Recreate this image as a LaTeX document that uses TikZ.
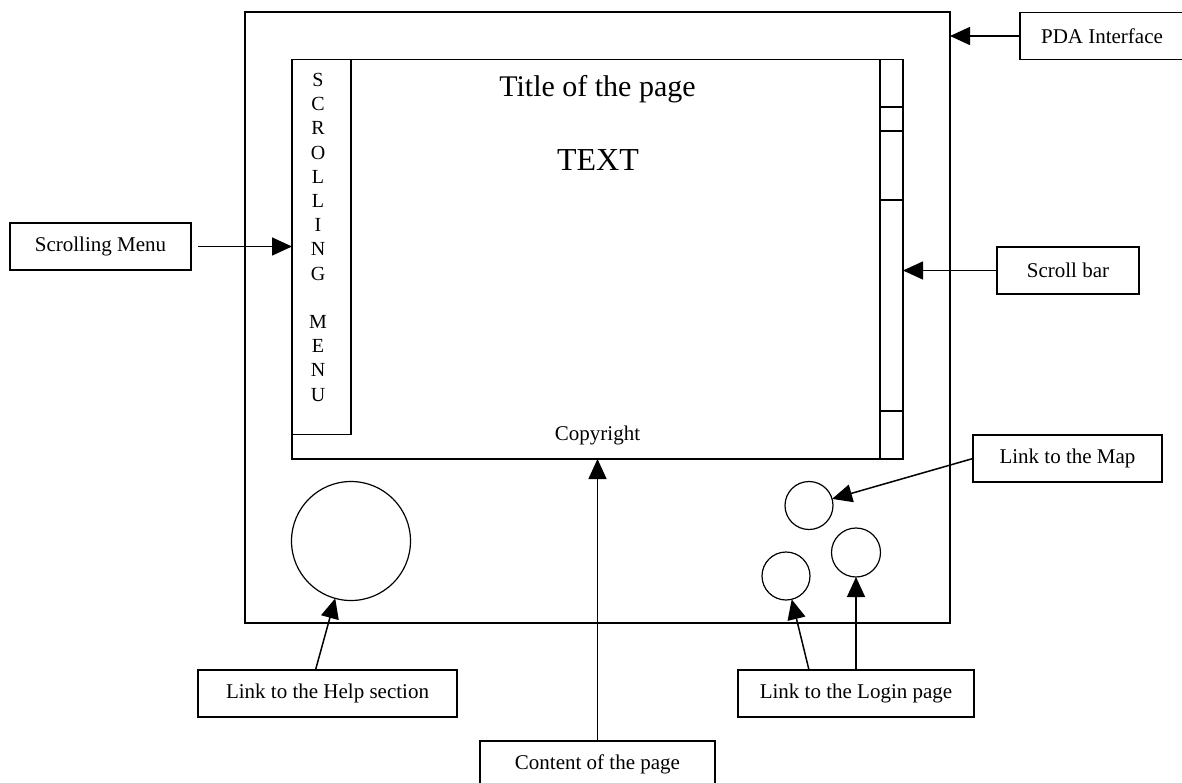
\documentclass[tikz,border=0pt]{standalone}
\usepackage{fontspec}
\setmainfont{Liberation Serif}
\usetikzlibrary{arrows.meta}
\begin{document}
\begin{tikzpicture}[x=1pt,y=-1pt,
  frame/.style={draw, line width=1.5pt, inner sep=0pt, outer sep=0pt, rectangle},
  lbl/.style={draw, line width=1.5pt, inner sep=0pt, outer sep=0pt, minimum height=47pt, font=\fontsize{21}{25}\selectfont},
  btn/.style={draw, circle, line width=1.2pt, inner sep=0pt, outer sep=0pt},
  arr/.style={line width=1.5pt, -{Triangle[length=20pt,width=18pt]}},
  letter/.style={inner sep=0pt, font=\fontsize{20}{24}\selectfont},
  plain/.style={inner sep=0pt, anchor=base},
]
\useasboundingbox (0,0) rectangle (1182,782);

% device and screen
\node[frame, minimum width=705pt, minimum height=611pt] (pda) at (597.5,317.5) {};
\node[frame, minimum width=611pt, minimum height=399.5pt] (screen) at (597.5,259.25) {};
\node[frame, minimum width=59pt, minimum height=375pt] (menu) at (321.5,247) {};
\node[frame, minimum width=23pt, minimum height=399.5pt] (sb) at (891.5,259.25) {};
\foreach \yy in {107,131,200,411} \draw[line width=1.5pt] (880,\yy) -- (903,\yy);

% screen texts
\node[plain, font=\fontsize{30}{36}\selectfont] (title) at (597.5,96) {Title of the page};
\node[plain, font=\fontsize{32}{38}\selectfont] (text) at (598,170) {TEXT};
\node[plain, font=\fontsize{21}{25}\selectfont] (copy) at (597.5,440) {Copyright};
\foreach \l [count=\i from 0] in {S,C,R,O,L,L,I,N,G}
  \node[letter] (m\i) at (318,80+\i*24.2) {\l};
\foreach \l [count=\i from 10] in {M,E,N,U}
  \node[letter] (m\i) at (318,80+\i*24.2) {\l};

% buttons
\node[btn, minimum size=119pt] (help) at (351,541) {};
\node[btn, minimum size=48pt] (c1) at (809,505.5) {};
\node[btn, minimum size=48pt] (c2) at (786,576) {};
\node[btn, minimum size=49pt] (c3) at (856,552.5) {};

% labels
\node[lbl, minimum width=164pt] (pdal) at (1102,36) {PDA Interface};
\node[lbl, minimum width=181pt] (sml) at (100.5,246.5) {Scrolling Menu};
\node[lbl, minimum width=142pt] (sbl) at (1068,270.5) {Scroll bar};
\node[lbl, minimum width=189pt] (mapl) at (1067.5,458.5) {Link to the Map};
\node[lbl, minimum width=259pt] (helpl) at (327.5,693.5) {Link to the Help section};
\node[lbl, minimum width=236pt] (loginl) at (856,693.5) {Link to the Login page};
\node[lbl, minimum width=235pt] (contl) at (597.5,764.5) {Content of the page};

% connectors
\draw[arr] (pdal.west) -- (pdal.west -| pda.east);
\draw[arr, shorten <=7pt] (sml.east) -- (sml.east -| menu.west);
\draw[arr] (sbl.west) -- (sbl.west -| sb.east);
\draw[arr] (mapl.west) -- (c1);
\draw[arr] ([xshift=-12pt]helpl.north) -- (help);
\draw[arr] (contl.north) -- (contl.north |- screen.south);
\draw[arr] ([xshift=-47pt]loginl.north) -- (c2);
\draw[arr] (loginl.north) -- (c3);
\end{tikzpicture}
\end{document}
